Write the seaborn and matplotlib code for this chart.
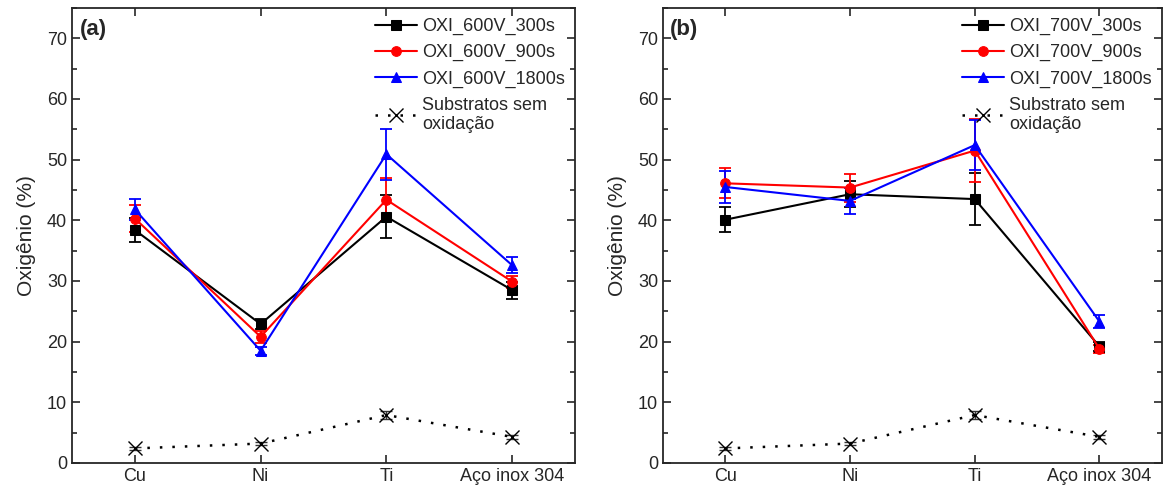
import numpy as np
import pandas as pd
import matplotlib
matplotlib.use("Agg")
import matplotlib.pyplot as plt
from matplotlib.ticker import MultipleLocator
import seaborn as sns

categories = ["Cu", "Ni", "Ti", "Aço inox 304"]

# Panel (a) 600 V
a_300 = [38.4, 22.9, 40.6, 28.5]
a_300_err = [2.0, 0.8, 3.5, 1.4]
a_900 = [40.3, 20.8, 43.4, 29.9]
a_900_err = [2.3, 1.0, 3.5, 1.0]
a_1800 = [41.8, 18.5, 50.9, 32.6]
a_1800_err = [1.7, 0.7, 4.2, 1.3]

# Panel (b) 700 V
b_300 = [40.1, 44.3, 43.5, 19.2]
b_300_err = [2.1, 2.1, 4.3, 0.7]
b_900 = [46.1, 45.4, 51.5, 18.8]
b_900_err = [2.5, 2.3, 5.2, 0.6]
b_1800 = [45.5, 43.2, 52.4, 23.3]
b_1800_err = [2.7, 2.1, 4.1, 1.1]

# Substrate without oxidation
sub = [2.4, 3.2, 7.9, 4.3]
sub_err = [0.2, 0.3, 0.6, 0.3]

sns.set_theme(style="ticks")
plt.rcParams['font.family'] = ['Liberation Sans', 'DejaVu Sans']

fig = plt.figure(figsize=(11.67, 4.94), dpi=100)
axA = fig.add_axes([0.0617, 0.0628, 0.431, 0.921])
axB = fig.add_axes([0.568, 0.0628, 0.4276, 0.921])

colors = ["black", "red", "blue"]
markers = ["s", "o", "^"]

def draw(ax, series, errs, labels, sublabel, panel):
    x = np.arange(len(categories))
    for vals, err, lab, c, m in zip(series, errs, labels, colors, markers):
        df = pd.DataFrame({"x": x, "y": vals})
        ax.errorbar(x, vals, yerr=err, fmt="none", ecolor=c, elinewidth=1.3,
                    capsize=4, capthick=1.3, zorder=2)
        sns.lineplot(data=df, x="x", y="y", ax=ax, color=c, marker=m,
                     markersize=7, markeredgecolor=c, linewidth=1.5,
                     label=lab, zorder=3)
    ax.errorbar(x, sub, yerr=sub_err, fmt="none", ecolor="#333333",
                elinewidth=1.0, capsize=4, capthick=1.0, zorder=2)
    dfs = pd.DataFrame({"x": x, "y": sub})
    sns.lineplot(data=dfs, x="x", y="y", ax=ax, color="black", marker="x",
                 markersize=10, markeredgewidth=1.0, markeredgecolor="black",
                 linestyle=(0, (1, 4)), linewidth=1.8, label=sublabel,
                 zorder=3)
    ax.set_xlim(-0.5, 3.5)
    ax.set_ylim(0, 75)
    ax.set_xticks(x)
    ax.set_xticklabels(categories)
    ax.yaxis.set_major_locator(MultipleLocator(10))
    ax.yaxis.set_minor_locator(MultipleLocator(5))
    ax.set_yticks(np.arange(0, 71, 10))
    ax.tick_params(axis="both", which="both", direction="in", top=True,
                   right=True, labelsize=13, width=1.2)
    ax.tick_params(which="major", length=6)
    ax.tick_params(which="minor", length=3.5)
    ax.set_xlabel("")
    ax.set_ylabel("Oxigênio (%)", fontsize=15, labelpad=8)
    for s in ax.spines.values():
        s.set_linewidth(1.3)
    ax.text(0.015, 0.975, panel, transform=ax.transAxes, fontsize=16,
            fontweight="bold", va="top", ha="left")
    ax.legend(loc="upper right", frameon=False, fontsize=13,
              handlelength=2.3, handletextpad=0.3, labelspacing=0.5,
              borderaxespad=0.15)

draw(axA, [a_300, a_900, a_1800], [a_300_err, a_900_err, a_1800_err],
     ["OXI_600V_300s", "OXI_600V_900s", "OXI_600V_1800s"],
     "Substratos sem\noxidação", "(a)")
draw(axB, [b_300, b_900, b_1800], [b_300_err, b_900_err, b_1800_err],
     ["OXI_700V_300s", "OXI_700V_900s", "OXI_700V_1800s"],
     "Substrato sem\noxidação", "(b)")

fig.savefig("out.png", dpi=100)
